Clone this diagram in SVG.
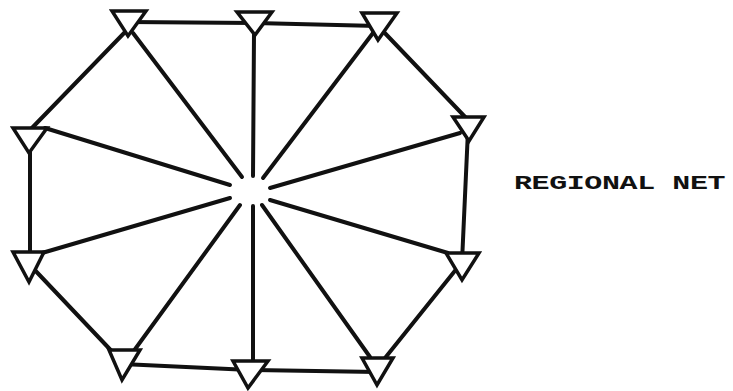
<svg xmlns="http://www.w3.org/2000/svg" width="733" height="391" viewBox="0 0 733 391">
<style>
.e{stroke:#111;stroke-width:4;fill:none;stroke-linecap:round}
.t{fill:#fff;stroke:#111;stroke-width:3.5;stroke-linejoin:miter}
.lbl{font-family:"Liberation Mono","Courier New",monospace;font-size:20px;fill:#111;font-weight:bold}
</style>
<rect width="733" height="391" fill="#fff"/>
<g id="connectors">
<line class="e" x1="128" y1="22" x2="255" y2="23"/>
<line class="e" x1="255" y1="23" x2="378" y2="26"/>
<line class="e" x1="127" y1="30" x2="30" y2="130"/>
<line class="e" x1="380" y1="28" x2="468" y2="120"/>
<line class="e" x1="30" y1="140" x2="30" y2="262"/>
<line class="e" x1="468" y1="130" x2="462" y2="262"/>
<line class="e" x1="30" y1="265" x2="122" y2="362"/>
<line class="e" x1="122" y1="364" x2="250" y2="370"/>
<line class="e" x1="250" y1="370" x2="377" y2="372"/>
<line class="e" x1="377" y1="368" x2="462" y2="262"/>
<line class="e" x1="133" y1="33" x2="242" y2="177"/>
<line class="e" x1="254" y1="33" x2="253" y2="176"/>
<line class="e" x1="373" y1="33" x2="263" y2="178"/>
<line class="e" x1="460" y1="133" x2="270" y2="188"/>
<line class="e" x1="45" y1="128" x2="230" y2="185"/>
<line class="e" x1="42" y1="253" x2="230" y2="198"/>
<line class="e" x1="133" y1="352" x2="240" y2="205"/>
<line class="e" x1="253" y1="360" x2="253" y2="206"/>
<line class="e" x1="370" y1="357" x2="262" y2="205"/>
<line class="e" x1="448" y1="253" x2="270" y2="200"/>
</g>
<g id="n1"><polygon class="t" points="112,11 146,11 128,36"/></g>
<g id="n2"><polygon class="t" points="237,12 272,12 255,35"/></g>
<g id="n3"><polygon class="t" points="362,13 397,13 378,40"/></g>
<g id="n4"><polygon class="t" points="453,117 484,117 469,141"/></g>
<g id="n5"><polygon class="t" points="13,128 47,128 29,153"/></g>
<g id="n6"><polygon class="t" points="13,252 44,252 29,282"/></g>
<g id="n7"><polygon class="t" points="446,253 479,253 462,280"/></g>
<g id="n8"><polygon class="t" points="109,350 140,350 122,380"/></g>
<g id="n9"><polygon class="t" points="233,361 268,361 248,388"/></g>
<g id="n10"><polygon class="t" points="362,358 393,358 377,385"/></g>
<g id="label"><text class="lbl" transform="translate(514,189) scale(1.5,1)" x="0" y="0" textLength="141" lengthAdjust="spacing">REGIONAL NET</text></g>
</svg>
